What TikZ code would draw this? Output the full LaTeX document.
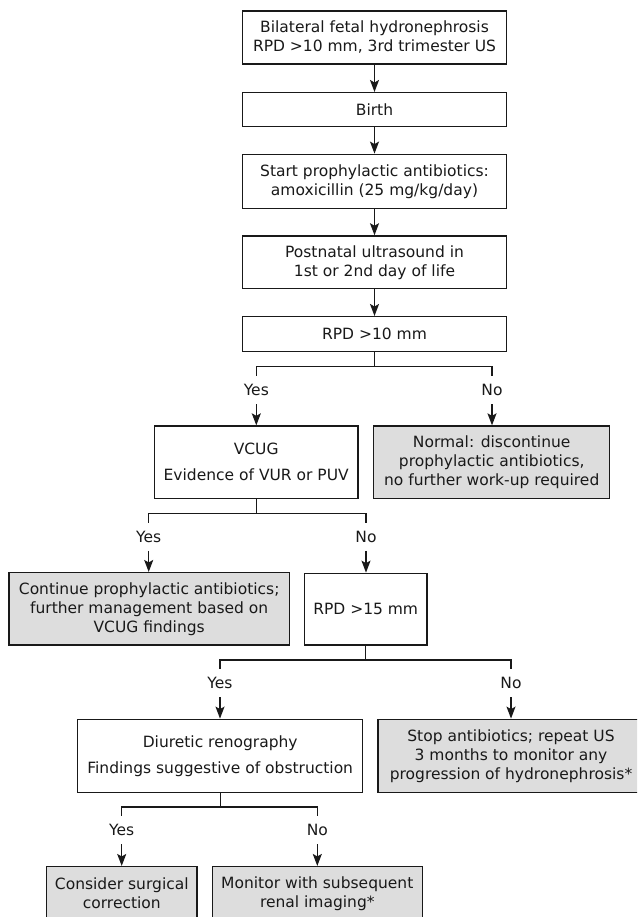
\documentclass[tikz,border=0pt]{standalone}
\usepackage{fontspec}
\setmainfont{DejaVu Sans}
\usetikzlibrary{arrows.meta}
\definecolor{lncol}{RGB}{25,25,25}
\definecolor{gf}{RGB}{221,221,221}
\definecolor{tx}{RGB}{25,25,25}
\begin{document}
\begin{tikzpicture}[x=1pt,y=-1pt,
  every node/.style={font=\fontsize{15.5}{19}\selectfont, text=tx},
  wbox/.style={draw=lncol, line width=1.4pt, fill=white, align=center, inner sep=0pt},
  gbox/.style={wbox, fill=gf},
  lab/.style={minimum height=28pt, inner sep=0pt},
  conn/.style={draw=lncol, line width=1.4pt},
  arr/.style={draw=lncol, line width=1.4pt, -{Stealth[length=12pt,width=9pt,inset=2.5pt]}}
]
\useasboundingbox (0,0) rectangle (637,917);
\clip (0,0) rectangle (637,917);

% main chain
\node[wbox, minimum width=264.4pt, minimum height=53pt] (b1) at (374.5,37.5)
  {Bilateral fetal hydronephrosis\\RPD >10 mm, 3rd trimester US};
\node[wbox, minimum width=264.4pt, minimum height=34pt] (b2) at (374.5,109.7) {Birth};
\node[wbox, minimum width=264.4pt, minimum height=54pt] (b3) at (374.5,181.3)
  {Start prophylactic antibiotics:\\amoxicillin (25 mg/kg/day)};
\node[wbox, minimum width=264.4pt, minimum height=52.7pt] (b4) at (374.5,262.3)
  {Postnatal ultrasound in\\1st or 2nd day of life};
\node[wbox, minimum width=264.4pt, minimum height=35pt] (b5) at (374.5,334.2) {RPD >10 mm};

\draw[arr] (b1.south) -- (b2.north);
\draw[arr] (b2.south) -- (b3.north);
\draw[arr] (b3.south) -- (b4.north);
\draw[arr] (b4.south) -- (b5.north);

% row 2
\node[wbox, minimum width=203.7pt, minimum height=72.3pt] (vcug) at (256.2,462.2)
  {VCUG\\[7pt]Evidence of VUR or PUV};
\node[gbox, minimum width=236pt, minimum height=72.3pt] (norm) at (491.7,462.2)
  {Normal: discontinue\\prophylactic antibiotics,\\no further work-up required};
\node[lab] (yes1) at (256.3,390) {Yes};
\node[lab] (no1) at (492,390) {No};
\draw[conn] (b5.south) -- ++(0,15);
\draw[conn] (yes1.north) -- ++(0,-9.3) -| (no1.north);
\draw[arr] (yes1.south) -- (yes1.south |- vcug.north);
\draw[arr] (no1.south) -- (no1.south |- norm.north);

% row 3
\node[gbox, minimum width=280.3pt, minimum height=72.3pt] (cont) at (149.2,608.8)
  {Continue prophylactic antibiotics;\\further management based on\\VCUG findings};
\node[wbox, minimum width=122.7pt, minimum height=71.7pt] (rpd15) at (365.7,609.2) {RPD >15 mm};
\node[lab] (yes2) at (148.7,536.7) {Yes};
\node[lab] (no2) at (366,536.7) {No};
\draw[conn] (vcug.south) -- ++(0,15);
\draw[conn] (yes2.north) -- ++(0,-9.3) -| (no2.north);
\draw[arr] (yes2.south) -- (yes2.south |- cont.north);
\draw[arr] (no2.south) -- (no2.south |- rpd15.north);

% row 4
\node[wbox, minimum width=285pt, minimum height=73pt] (diur) at (220.2,755.8)
  {Diuretic renography\\[7pt]Findings suggestive of obstruction};
\node[gbox, minimum width=266pt, minimum height=73pt] (stop) at (511,755.8)
  {Stop antibiotics; repeat US\\3 months to monitor any\\progression of hydronephrosis*};
\node[lab] (yes3) at (220,683) {Yes};
\node[lab] (no3) at (511,683) {No};
\draw[conn] (rpd15.south) -- ++(0,15);
\draw[conn] (yes3.north) -- ++(0,-9) -| (no3.north);
\draw[arr] (yes3.south) -- (yes3.south |- diur.north);
\draw[arr] (no3.south) -- (no3.south |- stop.north);

% row 5
\node[gbox, minimum width=150.3pt, minimum height=53.3pt] (cons) at (121.8,893.3)
  {Consider surgical\\correction};
\node[gbox, minimum width=210pt, minimum height=53.3pt] (mon) at (317.3,893.3)
  {Monitor with subsequent\\renal imaging*};
\node[lab] (yes4) at (121.7,830) {Yes};
\node[lab] (no4) at (317.3,830) {No};
\draw[conn] (diur.south) -- ++(0,15);
\draw[conn] (yes4.north) -- ++(0,-8.7) -| (no4.north);
\draw[arr] (yes4.south) -- (yes4.south |- cons.north);
\draw[arr] (no4.south) -- (no4.south |- mon.north);
\end{tikzpicture}
\end{document}
